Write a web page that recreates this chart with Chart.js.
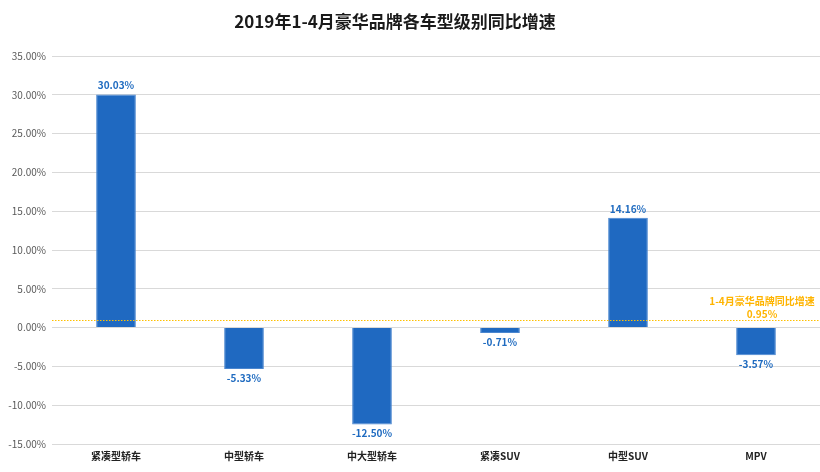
<!DOCTYPE html>
<html>
<head>
<meta charset="utf-8">
<script src="https://cdn.jsdelivr.net/npm/chart.js@4.4.0/dist/chart.umd.min.js"></script>
<style>
body{margin:0;background:#fff;}
#wrap{width:820px;height:472px;}
</style>
</head>
<body>
<div id="wrap"><canvas id="mycanvas" width="820" height="472"></canvas></div>
<script>
var categories = ["紧凑型轿车", "中型轿车", "中大型轿车", "紧凑SUV", "中型SUV", "MPV"];
var growth = [30.03, -5.33, -12.50, -0.71, 14.16, -3.57];
var overallLabel = "1-4月豪华品牌同比增速";
var overallValue = 0.95;
var yTicks = [35, 30, 25, 20, 15, 10, 5, 0, -5, -10, -15];
var titleText = "2019年1-4月豪华品牌各车型级别同比增速";

var fontFam = "'Noto Sans CJK SC', 'Noto Sans', sans-serif";

// title, bar value labels + average line
var labelPlugin = {
	id: 'labelPlugin',
	afterDraw: function(chart){
		var ctx = chart.ctx;
		ctx.save();
		ctx.font = "bold 17px " + fontFam;
		ctx.fillStyle = "#1a1a1a";
		ctx.textAlign = "center";
		ctx.textBaseline = "middle";
		ctx.fillText(titleText, 395, 22);
		ctx.restore();
	},
	afterDatasetsDraw: function(chart){
		var ctx = chart.ctx;
		var meta = chart.getDatasetMeta(0);
		ctx.save();
		ctx.font = "bold 10px " + fontFam;
		ctx.fillStyle = "#1F6BC0";
		ctx.textAlign = "center";
		meta.data.forEach(function(bar, i){
			var v = growth[i];
			if (v >= 0) {
				ctx.textBaseline = "bottom";
				ctx.fillText(v.toFixed(2) + "%", bar.x, bar.y - 4);
			} else {
				ctx.textBaseline = "top";
				ctx.fillText(v.toFixed(2) + "%", bar.x, bar.y + 4);
			}
		});
		// overall line
		var area = chart.chartArea;
		var y = Math.round(chart.scales.y.getPixelForValue(overallValue));
		ctx.strokeStyle = "#FFC000";
		ctx.lineWidth = 1.2;
		ctx.setLineDash([1.5, 1.5]);
		ctx.beginPath();
		ctx.moveTo(area.left, y + 0.5);
		ctx.lineTo(area.right, y + 0.5);
		ctx.stroke();
		ctx.setLineDash([]);
		ctx.fillStyle = "#FFB400";
		ctx.font = "bold 10px " + fontFam;
		ctx.textBaseline = "bottom";
		var lx = meta.data[5].x + 6;
		ctx.fillText(overallLabel, lx, y - 14);
		ctx.fillText(overallValue.toFixed(2) + "%", lx, y - 1);
		ctx.restore();
	}
};

var chartdata = {
	labels: categories,
	datasets: [
		{
			label: "同比增速",
			backgroundColor: "#1F69C1",
			borderColor: "#4A86CF",
			borderWidth: 1,
			categoryPercentage: 1.0,
			barPercentage: 0.31,
			data: growth
		}
	]
};

var ctx = document.getElementById("mycanvas");

var BarGraph = new Chart(ctx, {
	type: 'bar',
	data: chartdata,
	plugins: [labelPlugin],
	options: {
		responsive: false,
		animation: false,
		layout: { padding: { left: 0, right: 0, top: 56, bottom: 4 } },
		plugins: {
			legend: { display: false },
			tooltip: { enabled: false },
			title: { display: false }
		},
		scales: {
			x: {
				grid: { display: false, drawTicks: false },
				border: { display: false },
				ticks: {
					color: "#222",
					font: { size: 10, weight: 'bold', family: fontFam },
					padding: 6
				}
			},
			y: {
				min: -15,
				max: 35,
				afterFit: function(scale){ scale.width = 52; },
				afterBuildTicks: function(scale){
					scale.ticks = yTicks.map(function(v){ return { value: v }; });
				},
				grid: { color: "#D9D9D9", drawTicks: false },
				border: { display: false },
				ticks: {
					color: "#595959",
					font: { size: 10, family: fontFam },
					padding: 6,
					callback: function(v){ return v.toFixed(2) + "%"; }
				}
			}
		}
	}
});
</script>
</body>
</html>
